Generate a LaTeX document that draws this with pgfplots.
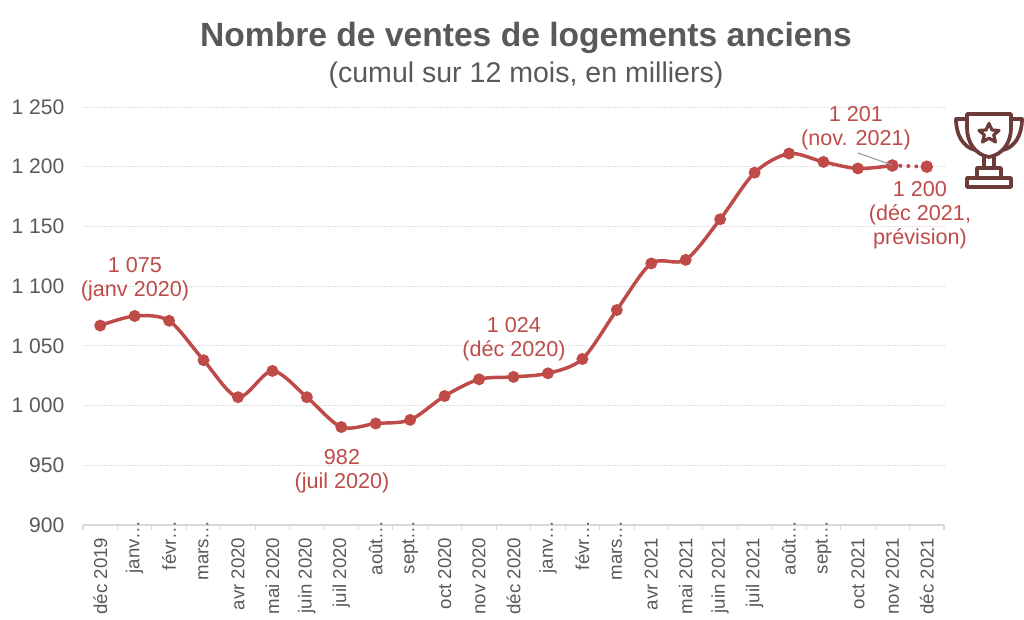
\documentclass[border=0pt]{standalone}
\usepackage{fontspec}
\setmainfont{Liberation Sans}
\usepackage{pgfplots}
\pgfplotsset{compat=1.18}
\definecolor{courbe}{HTML}{BE4B48}
\definecolor{texte}{HTML}{595959}
\definecolor{grille}{HTML}{D9D9D9}
\definecolor{coupe}{HTML}{6E3B3B}
% long labels are truncated by the spreadsheet and run up over the axis
\newcommand{\cut}[1]{#1…\hspace*{-13pt}}
\begin{document}
\begin{tikzpicture}[x=0.75pt,y=0.75pt]
\useasboundingbox (0,0) rectangle (1024,620);
\begin{axis}[
    at={(62.25pt,71.25pt)}, anchor=south west,
    scale only axis,
    width=645.75pt, height=313.5pt,
    xmin=-0.5, xmax=24.5,
    ymin=900, ymax=1250,
    axis x line=bottom, axis y line=left,
    axis line style={-},
    x axis line style={draw=grille, line width=1pt},
    y axis line style={draw=none},
    ytick={900,950,...,1250},
    ymajorgrids,
    grid style={draw=grille, densely dotted, line width=0.6pt},
    major y tick style={draw=none},
    major x tick style={draw=grille, line width=0.8pt},
    tick align=outside,
    major tick length=4pt,
    /pgf/number format/assume math mode=true,
    /pgf/number format/1000 sep={\ },
    yticklabel style={font=\fontsize{15.8}{18}\selectfont, text=texte, xshift=-6.5pt},
    xtick={-0.5,0.5,...,24.5},
    x tick label as interval,
    xticklabels={déc 2019,\cut{janv},\cut{févr},\cut{mars},avr 2020,mai 2020,juin 2020,juil 2020,\cut{août},\cut{sept},oct 2020,nov 2020,déc 2020,\cut{janv},\cut{févr},\cut{mars},avr 2021,mai 2021,juin 2021,juil 2021,\cut{août},\cut{sept},oct 2021,nov 2021,déc 2021},
    xticklabel style={font=\fontsize{14}{16}\selectfont, text=texte, rotate=90, anchor=east, xshift=-2pt},
    clip=false,
]
\addplot[courbe, line width=3pt, line cap=round, dash pattern=on 0pt off 6pt, mark=*, mark size=3.1pt, mark options={solid}] coordinates {
    (23,1201) (24,1200)
};
\addplot[courbe, line width=2.6pt, smooth, tension=0.5, mark=*, mark size=3.1pt, mark options={solid}] coordinates {
    (0,1067) (1,1075) (2,1071) (3,1038) (4,1007) (5,1029) (6,1007) (7,982)
    (8,985) (9,988) (10,1008) (11,1022) (12,1024) (13,1027) (14,1039) (15,1080)
    (16,1119) (17,1122) (18,1156) (19,1195) (20,1211) (21,1204) (22,1198.5) (23,1201)
};
\end{axis}
\begin{scope}[shift={(0,620)},y=-0.75pt]
\node[text=texte, font=\fontsize{25.2}{28}\selectfont\bfseries] at (526,38) {Nombre de ventes de logements anciens};
\node[text=texte, font=\fontsize{21.4}{24}\selectfont] at (526,75) {(cumul sur 12 mois, en milliers)};
\begin{scope}[text=courbe, font=\fontsize{16.2}{18}\selectfont]
\node[align=center] at (135,279) {1 075\\(janv 2020)};
\node[align=center] at (514,339) {1 024\\(déc 2020)};
\node[align=center] at (342,471) {982\\(juil 2020)};
\node[align=center] at (856,128) {1 201\\(nov. 2021)};
\node[align=center] at (920,215) {1 200\\(déc 2021,\\prévision)};
\end{scope}
\draw[gray!80, line width=0.8pt] (858,153) -- (892,165);
% trophy icon
\begin{scope}[draw=coupe, line width=2.8pt, line join=round, line cap=round]
\draw (967,114) -- (1011,114) -- (1011,128) .. controls (1011,143) and (1002,155) .. (989,157)
      .. controls (976,155) and (967,143) .. (967,128) -- cycle;
\draw (967,119) -- (956,119) .. controls (956,135) and (963,147) .. (975,150);
\draw (1011,119) -- (1022,119) .. controls (1022,135) and (1015,147) .. (1003,150);
\draw (984,158) -- (984,168) (994,158) -- (994,168);
\draw (977,168) rectangle (1001,178);
\draw (967,178) rectangle (1011,187);
\draw[line width=2.4pt] (989,123.5) -- (992,130) -- (999,130.5) -- (993.7,135) -- (995.5,142) -- (989,138.2)
      -- (982.5,142) -- (984.3,135) -- (979,130.5) -- (986,130) -- cycle;
\end{scope}
\end{scope}
\end{tikzpicture}
\end{document}
